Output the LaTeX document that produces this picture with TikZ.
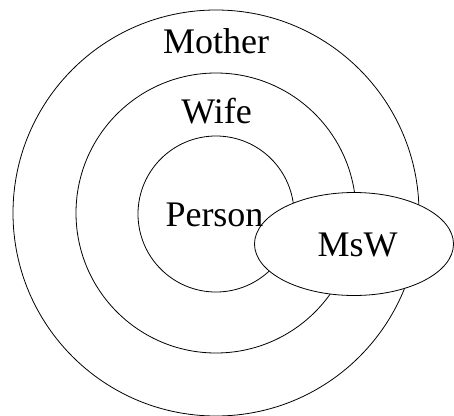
\documentclass[tikz,border=0pt]{standalone}
\usepackage{fontspec}
\setmainfont{Liberation Serif}
\usetikzlibrary{shapes.geometric}
\begin{document}
\begin{tikzpicture}[x=1pt,y=-1pt,
  ring/.style={draw=black,line width=0.8pt},
  lbl/.style={anchor=base,inner sep=0pt,font=\fontsize{36}{40}\selectfont}]
  \useasboundingbox (0,0) rectangle (454,415);
  % nested roles
  \draw[ring] (216,213) circle[radius=203] coordinate (mother);
  \draw[ring] (216,213) circle[radius=140] coordinate (wife);
  \draw[ring] (216,214) circle[radius=78] coordinate (person);
  % overlapping role
  \draw[ring,fill=white] (354,244) ellipse[x radius=99.5,y radius=51.5];
  \node[lbl] (tmother) at (216,53) {Mother};
  \node[lbl] (twife) at (216.5,123) {Wife};
  \node[lbl] (tperson) at (214.5,226.5) {Person};
  \node[lbl] (tmsw) at (357.5,256) {MsW};
\end{tikzpicture}
\end{document}
